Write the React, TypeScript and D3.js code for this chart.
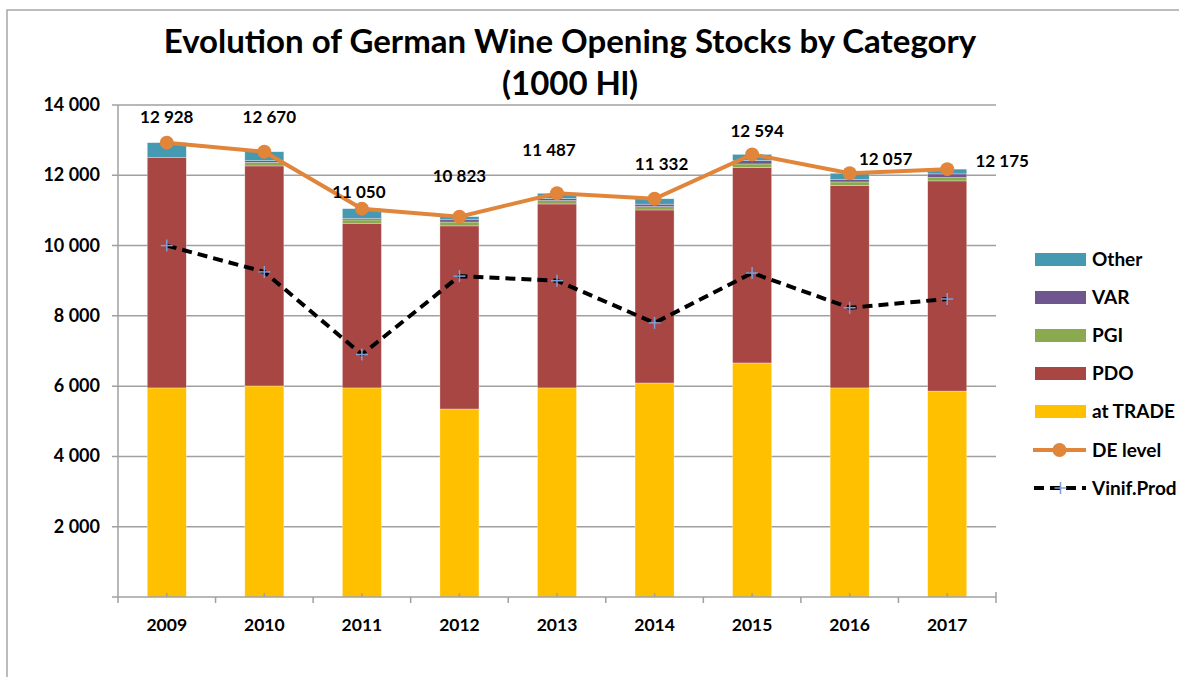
import React from 'react';
import * as d3 from 'd3';

const years = ['2009', '2010', '2011', '2012', '2013', '2014', '2015', '2016', '2017'];
const atTrade = [5950, 6005, 5950, 5350, 5950, 6090, 6660, 5950, 5860];
const pdo = [6563, 6261, 4685, 5210, 5234, 4923, 5558, 5756, 5980];
const pgi = [0, 100, 95, 110, 95, 95, 105, 105, 95];
const varSeries = [0, 50, 45, 65, 60, 70, 95, 75, 105];
const other = [415, 254, 275, 88, 148, 154, 176, 171, 135];
const deLevel = [12928, 12670, 11050, 10823, 11487, 11332, 12594, 12057, 12175];
const vinifProd = [10000, 9250, 6900, 9130, 9000, 7800, 9220, 8230, 8480];
const yTicks = [2000, 4000, 6000, 8000, 10000, 12000, 14000];

// hand placed data labels (dx, dy from the point), as in the original sheet
const labelOffsets = [
  [0, -26], [5, -35], [-3, -17], [0, -41], [-8, -43], [7, -35], [5, -23], [36, -14], [55, -8],
];

const keys = ['trade', 'pdo', 'pgi', 'var', 'other'];
const colors: Record<string, string> = {
  trade: '#FFC000',
  pdo: '#A84643',
  pgi: '#8BA94E',
  var: '#70568E',
  other: '#4599B1',
};
const legendItems = [
  { key: 'other', label: 'Other' },
  { key: 'var', label: 'VAR' },
  { key: 'pgi', label: 'PGI' },
  { key: 'pdo', label: 'PDO' },
  { key: 'trade', label: 'at TRADE' },
];

const orange = '#E0853A';
const font = 'Lato, "Open Sans", sans-serif';
const fmt = (v: number) => d3.format(',')(v).replace(/,/g, ' ');

export default function App() {
  const left = 118, right = 996, top = 105, bottom = 597;
  const x = d3.scaleBand<string>().domain(years).range([left, right]).padding(0);
  const y = d3.scaleLinear().domain([0, 14000]).range([bottom, top]);
  const barW = x.bandwidth() * 0.4;
  const cx = (yr: string) => (x(yr) as number) + x.bandwidth() / 2;

  const rows = years.map((yr, i) => ({
    year: yr,
    trade: atTrade[i],
    pdo: pdo[i],
    pgi: pgi[i],
    var: varSeries[i],
    other: other[i],
  }));
  const stacked = d3.stack<any>().keys(keys)(rows);

  const line = d3
    .line<number>()
    .x((_, i) => cx(years[i]))
    .y((d) => y(d));

  const plus = (px: number, py: number, k: string | number) => (
    <g key={k} stroke="#7F9FD6" strokeWidth={1.5}>
      <line x1={px - 6} x2={px + 6} y1={py} y2={py} />
      <line x1={px} x2={px} y1={py - 6} y2={py + 6} />
    </g>
  );

  const legX = 1035, legW = 51, legY0 = 259, legStep = 38;

  return (
    <svg
      width={1179}
      height={677}
      style={{ position: 'absolute', left: 0, top: 0, background: '#fff' }}
      fontFamily={font}
      fontWeight="bold"
    >
      <rect x={7} y={10} width={1300} height={800} fill="#fff" stroke="#A6A6A6" strokeWidth={1.5} />

      <text x={570} y={53} textAnchor="middle" fontSize={33}>
        Evolution of German Wine Opening Stocks by Category
      </text>
      <text x={570} y={95} textAnchor="middle" fontSize={33}>
        (1000 Hl)
      </text>

      {/* grid */}
      {yTicks.map((t) => (
        <g key={t}>
          <line x1={left - 6} x2={right} y1={y(t)} y2={y(t)} stroke="#A0A0A0" strokeWidth={1.5} />
          <text x={100} y={y(t) + 6} textAnchor="end" fontSize={18}>
            {fmt(t)}
          </text>
        </g>
      ))}

      {/* bars */}
      {stacked.map((s) => (
        <g key={s.key} fill={colors[s.key]}>
          {s.map((d, i) =>
            d[1] - d[0] > 0 ? (
              <rect
                key={i}
                x={cx(years[i]) - barW / 2}
                y={y(d[1])}
                width={barW}
                height={y(d[0]) - y(d[1])}
                stroke="#fff"
                strokeOpacity={0.5}
                strokeWidth={0.6}
              />
            ) : null
          )}
        </g>
      ))}

      {/* axes */}
      <line x1={left} x2={left} y1={top} y2={bottom} stroke="#A0A0A0" strokeWidth={1.5} />
      <line x1={left - 6} x2={right} y1={bottom} y2={bottom} stroke="#A0A0A0" strokeWidth={1.5} />
      {years.map((yr, i) => (
        <g key={yr} stroke="#A0A0A0" strokeWidth={1.5}>
          <line x1={x(yr) as number} x2={x(yr) as number} y1={bottom} y2={bottom + 6} />
          <line x1={cx(yr)} x2={cx(yr)} y1={bottom} y2={bottom - 4} />
          {i === years.length - 1 && <line x1={right} x2={right} y1={bottom - 5} y2={bottom + 6} />}
        </g>
      ))}
      {years.map((yr) => (
        <text key={yr} x={cx(yr)} y={631} textAnchor="middle" fontSize={17.5}>
          {yr}
        </text>
      ))}

      {/* Vinif.Prod */}
      <path d={line(vinifProd) || ''} fill="none" stroke="#000" strokeWidth={4} strokeDasharray="10 6" />
      {vinifProd.map((v, i) => plus(cx(years[i]), y(v), 'p' + i))}

      {/* DE level */}
      <path d={line(deLevel) || ''} fill="none" stroke={orange} strokeWidth={4} />
      {deLevel.map((v, i) => (
        <circle key={i} cx={cx(years[i])} cy={y(v)} r={7} fill={orange} />
      ))}
      {deLevel.map((v, i) => (
        <text
          key={'l' + i}
          x={cx(years[i]) + labelOffsets[i][0]}
          y={y(v) + labelOffsets[i][1] + 6}
          textAnchor="middle"
          fontSize={17}
        >
          {fmt(v)}
        </text>
      ))}

      {/* legend */}
      {legendItems.map((it, i) => (
        <g key={it.key}>
          <rect x={legX} y={legY0 + i * legStep - 6} width={legW} height={13} fill={colors[it.key]} />
          <text x={1092} y={legY0 + i * legStep + 7} fontSize={19}>
            {it.label}
          </text>
        </g>
      ))}
      <g>
        <line x1={legX - 2} x2={legX + legW} y1={450} y2={450} stroke={orange} strokeWidth={4} />
        <circle cx={legX + legW / 2 - 1} cy={450} r={7} fill={orange} />
        <text x={1092} y={457} fontSize={19}>DE level</text>
      </g>
      <g>
        <line x1={legX - 1} x2={legX + legW} y1={488} y2={488} stroke="#000" strokeWidth={4} strokeDasharray="10 6" />
        {plus(legX + legW / 2, 488, 'lp')}
        <text x={1092} y={495} fontSize={19}>Vinif.Prod</text>
      </g>
    </svg>
  );
}
